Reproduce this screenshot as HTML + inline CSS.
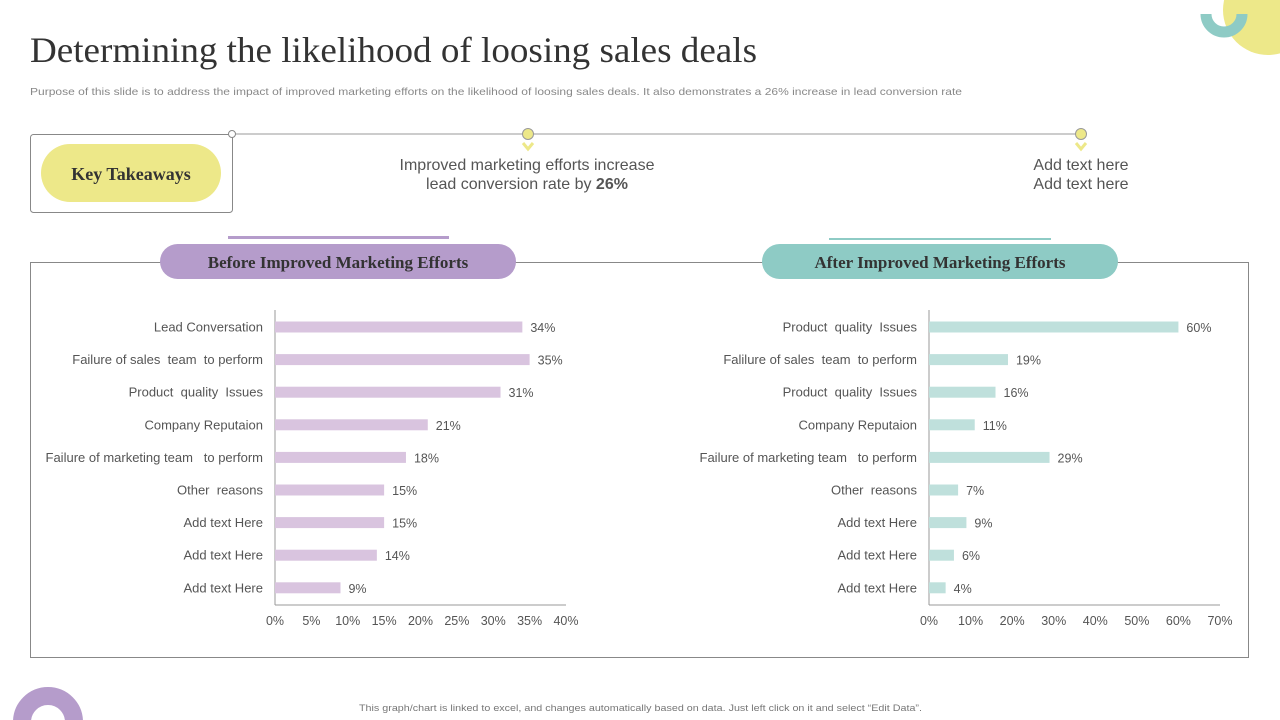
<!DOCTYPE html>
<html><head><meta charset="utf-8"><style>
body{margin:0;width:1280px;height:720px;overflow:hidden;background:#fff;font-family:"Liberation Sans",sans-serif;position:relative}
.abs{position:absolute}
text{white-space:pre}
</style></head><body>
<svg class="abs" style="left:0;top:0" width="1280" height="720">
  <circle cx="1268" cy="10" r="45" fill="#ede889"/>
  <path d="M1206,14 A17,17 0 0 0 1242,14" fill="none" stroke="#8ecbc5" stroke-width="11"/>
  <circle cx="48" cy="722" r="26" fill="none" stroke="#b59ccb" stroke-width="18"/>
  <text x="30" y="62" font-family="Liberation Serif" font-size="36" fill="#333" textLength="727" lengthAdjust="spacingAndGlyphs">Determining the likelihood of loosing sales deals</text>
  <text x="30" y="95" font-size="10.5" fill="#888" textLength="932" lengthAdjust="spacingAndGlyphs">Purpose of this slide is to address the impact of improved marketing efforts on the likelihood of loosing sales deals. It also demonstrates a 26% increase in lead conversion rate</text>
  <line x1="232" y1="134" x2="1081" y2="134" stroke="#999"/>
  <rect x="30.5" y="134.5" width="202" height="78" rx="3" fill="none" stroke="#888"/>
  <circle cx="232" cy="134" r="3.5" fill="#fff" stroke="#888"/>
  <rect x="41" y="144" width="180" height="58" rx="29" fill="#ede889"/>
  <text x="131" y="180" text-anchor="middle" font-family="Liberation Serif" font-weight="bold" font-size="18" fill="#333">Key Takeaways</text>
  <circle cx="528" cy="134" r="5.5" fill="#ede889" stroke="#999"/>
  <path d="M523,143 L528,149 L533,143" fill="none" stroke="#ede889" stroke-width="3"/>
  <circle cx="1081" cy="134" r="5.5" fill="#ede889" stroke="#999"/>
  <path d="M1076,143 L1081,149 L1086,143" fill="none" stroke="#ede889" stroke-width="3"/>
  <text x="527" y="170" text-anchor="middle" font-size="16" fill="#555">Improved marketing efforts increase</text>
  <text x="527" y="189" text-anchor="middle" font-size="16" fill="#555">lead conversion rate by <tspan font-weight="bold">26%</tspan></text>
  <text x="1081" y="170" text-anchor="middle" font-size="16" fill="#555">Add text here</text>
  <text x="1081" y="189" text-anchor="middle" font-size="16" fill="#555">Add text here</text>
  <rect x="30.5" y="262.5" width="1218" height="395" fill="none" stroke="#888"/>
  <rect x="228" y="236" width="221" height="3" fill="#b59ccb"/>
  <rect x="160" y="244" width="356" height="35" rx="17.5" fill="#b59ccb"/>
  <text x="338" y="268" text-anchor="middle" font-family="Liberation Serif" font-weight="bold" font-size="17" fill="#333">Before Improved Marketing Efforts</text>
  <rect x="829" y="238" width="222" height="2" fill="#8ecbc5"/>
  <rect x="762" y="244" width="356" height="35" rx="17.5" fill="#8ecbc5"/>
  <text x="940" y="268" text-anchor="middle" font-family="Liberation Serif" font-weight="bold" font-size="17" fill="#333">After Improved Marketing Efforts</text>
  <g id="chartL"></g>
  <g id="chartR"></g>
  <text x="359" y="711" font-size="9.5" fill="#777" textLength="563" lengthAdjust="spacingAndGlyphs">This graph/chart is linked to excel, and changes automatically based on data. Just left click on it and select “Edit Data”.</text>
</svg>
<script>
const leftCats=["Lead Conversation","Failure of sales  team  to perform","Product  quality  Issues","Company Reputaion","Failure of marketing team   to perform","Other  reasons","Add text Here","Add text Here","Add text Here"];
const leftVals=[34,35,31,21,18,15,15,14,9];
const leftTicks=[0,5,10,15,20,25,30,35,40];
const rightCats=["Product  quality  Issues","Falilure of sales  team  to perform","Product  quality  Issues","Company Reputaion","Failure of marketing team   to perform","Other  reasons","Add text Here","Add text Here","Add text Here"];
const rightVals=[60,19,16,11,29,7,9,6,4];
const rightTicks=[0,10,20,30,40,50,60,70];
const NS="http://www.w3.org/2000/svg";
function mk(g,t,a,txt){const e=document.createElementNS(NS,t);for(const k in a)e.setAttribute(k,a[k]);if(txt!=null)e.textContent=txt;g.appendChild(e);return e;}
function draw(id,cats,vals,ticks,x0,x1,color,side){
  const g=document.getElementById(id);
  const max=ticks[ticks.length-1];
  const xs=v=>x0+(x1-x0)*v/max;
  const y0=327,step=32.6;
  const ys=i=>y0+i*step;
  mk(g,'line',{x1:x0,y1:310,x2:x0,y2:605,stroke:'#999'});
  mk(g,'line',{x1:x0,y1:605,x2:x1,y2:605,stroke:'#999'});
  ticks.forEach(t=>{const e=mk(g,'text',{x:xs(t),y:625,'text-anchor':'middle','font-size':12.5,fill:'#555'},t+'%');
    
    });
  cats.forEach((c,i)=>{
    const r=mk(g,'rect',{x:x0,y:ys(i)-5.5,width:xs(vals[i])-x0,height:11,fill:color});
    
    
    const l=mk(g,'text',{x:x0-12,y:ys(i)+4.5,'text-anchor':'end','font-size':13,fill:'#555'},c);
    
    
    const v=mk(g,'text',{x:xs(vals[i])+8,y:ys(i)+5,'font-size':12.5,fill:'#555'},vals[i]+'%');
    
    
  });
}
draw('chartL',leftCats,leftVals,leftTicks,275,566,'#d9c4df','left');
draw('chartR',rightCats,rightVals,rightTicks,929,1220,'#bfe0dc','right');
</script>
</body></html>
